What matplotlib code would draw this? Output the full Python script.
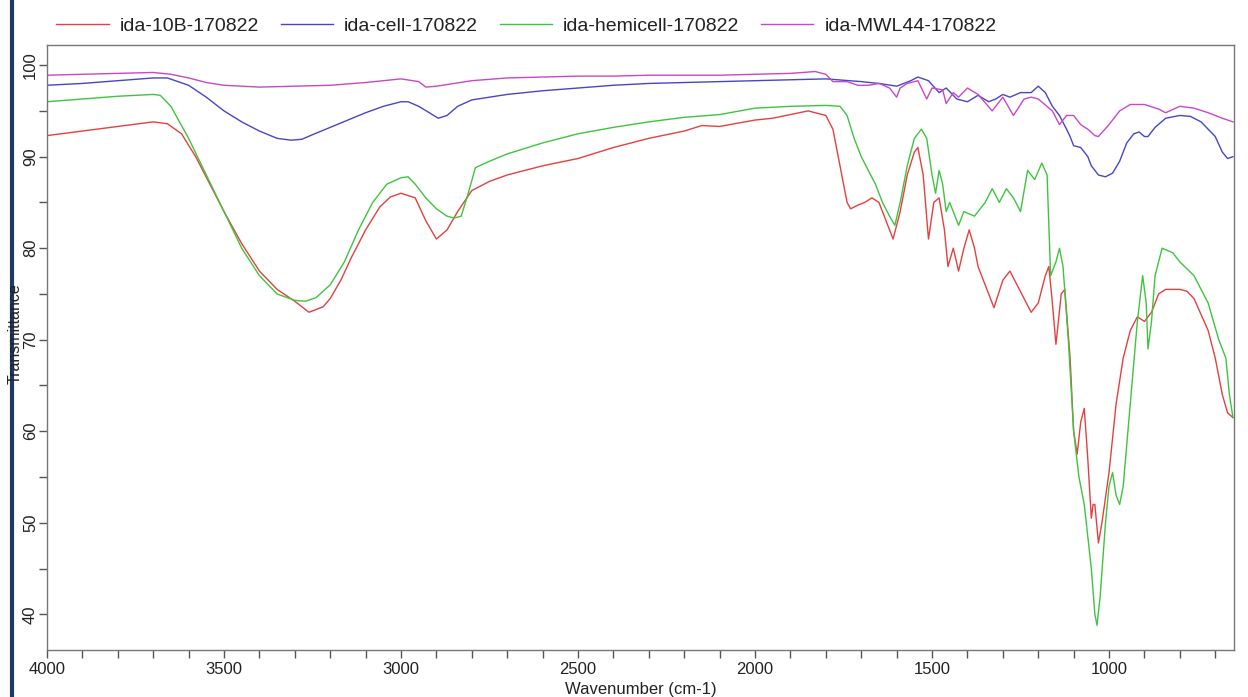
import numpy as np
import matplotlib.pyplot as plt
from matplotlib.ticker import MultipleLocator
from matplotlib.lines import Line2D

plt.rcParams['font.family'] = ['Liberation Sans', 'DejaVu Sans']

# wavenumber / transmittance points
wn_red = [4000, 3900, 3800, 3700, 3660, 3620, 3580, 3540, 3500, 3450, 3400, 3350, 3300, 3260,
          3240, 3220, 3200, 3170, 3140, 3100, 3060, 3030, 3000, 2960, 2930, 2900, 2870, 2840,
          2800, 2750, 2700, 2600, 2500, 2400, 2350, 2300, 2200, 2150, 2100, 2000, 1950, 1900,
          1850, 1800, 1780, 1760, 1740, 1730, 1710, 1690, 1670, 1650, 1630, 1610, 1590, 1570,
          1550, 1540, 1525, 1510, 1495, 1480, 1465, 1455, 1440, 1425, 1410, 1395, 1380, 1370,
          1350, 1325, 1300, 1280, 1260, 1240, 1220, 1200, 1180, 1170, 1160, 1150, 1135, 1125,
          1110, 1100, 1090, 1080, 1070, 1060, 1050, 1045, 1040, 1030, 1020, 1000, 980, 960,
          940, 920, 900, 880, 860, 840, 800, 780, 760, 720, 700, 680, 665, 650]
t_red = [92.3, 92.8, 93.3, 93.8, 93.6, 92.5, 90, 87, 84, 80.5, 77.5, 75.5, 74.2, 73,
         73.3, 73.6, 74.5, 76.5, 79, 82, 84.5, 85.6, 86, 85.5, 83, 81, 82, 84,
         86.3, 87.3, 88, 89, 89.8, 91, 91.5, 92, 92.8, 93.4, 93.3, 94, 94.2, 94.6,
         95, 94.5, 93, 89, 85, 84.3, 84.7, 85, 85.5, 85, 83, 81, 84, 88,
         90.5, 91, 88, 81, 85, 85.5, 82, 78, 80, 77.5, 80, 82, 80, 78,
         76, 73.5, 76.5, 77.5, 76, 74.5, 73, 74, 77, 78, 74, 69.5, 75, 75.5,
         68, 60, 57.5, 61, 62.5, 57, 50.5, 52, 52, 47.8, 50, 55.5, 63, 68,
         71, 72.5, 72, 73, 75, 75.5, 75.5, 75.3, 74.5, 71, 68, 64, 62, 61.5]

wn_blue = [4000, 3900, 3800, 3700, 3660, 3600, 3550, 3500, 3450, 3400, 3350, 3310, 3280, 3250,
           3200, 3150, 3100, 3050, 3000, 2980, 2950, 2920, 2895, 2870, 2840, 2800, 2700, 2600,
           2500, 2400, 2300, 2200, 2100, 2000, 1900, 1800, 1700, 1650, 1600, 1560, 1540, 1510,
           1480, 1460, 1430, 1400, 1370, 1340, 1320, 1300, 1280, 1250, 1220, 1200, 1180, 1160,
           1140, 1120, 1110, 1100, 1080, 1060, 1050, 1030, 1010, 990, 970, 950, 930, 915, 900,
           890, 870, 840, 800, 770, 740, 720, 700, 680, 665, 650]
t_blue = [97.8, 98, 98.3, 98.6, 98.6, 97.8, 96.5, 95, 93.8, 92.8, 92, 91.8, 91.9, 92.4,
          93.2, 94, 94.8, 95.5, 96, 96, 95.5, 94.8, 94.2, 94.5, 95.5, 96.2, 96.8, 97.2,
          97.5, 97.8, 98, 98.1, 98.2, 98.3, 98.4, 98.5, 98.2, 98, 97.7, 98.3, 98.7, 98.3,
          97, 97.5, 96.3, 96, 96.7, 96, 96.3, 96.8, 96.5, 97, 97, 97.7, 97, 95.5,
          94.5, 93, 92.2, 91.2, 91, 90, 89, 88, 87.8, 88.2, 89.5, 91.5, 92.5, 92.7, 92.2,
          92.2, 93.2, 94.2, 94.5, 94.4, 93.8, 93, 92.2, 90.5, 89.8, 90]

wn_green = [4000, 3900, 3800, 3700, 3680, 3650, 3600, 3550, 3500, 3450, 3400, 3350, 3300, 3270,
            3240, 3200, 3160, 3120, 3080, 3040, 3000, 2980, 2960, 2930, 2900, 2870, 2850, 2830,
            2810, 2790, 2750, 2700, 2600, 2500, 2400, 2300, 2200, 2100, 2000, 1900, 1800, 1760,
            1740, 1720, 1700, 1680, 1660, 1640, 1620, 1605, 1590, 1570, 1550, 1530, 1515, 1500,
            1490, 1480, 1470, 1460, 1450, 1440, 1425, 1410, 1380, 1350, 1330, 1310, 1290, 1270,
            1250, 1230, 1210, 1190, 1175, 1165, 1150, 1140, 1130, 1115, 1100, 1085, 1070, 1050,
            1040, 1034, 1025, 1010, 1000, 990, 980, 970, 960, 940, 920, 905, 895, 890, 880,
            870, 850, 820, 800, 760, 720, 690, 670, 660, 650]
t_green = [96, 96.3, 96.6, 96.8, 96.7, 95.5, 92, 88, 84, 80, 77, 75, 74.3, 74.2,
           74.6, 76, 78.5, 82, 85, 87, 87.7, 87.8, 87, 85.5, 84.3, 83.5, 83.3, 83.5,
           86, 88.8, 89.5, 90.3, 91.5, 92.5, 93.2, 93.8, 94.3, 94.6, 95.3, 95.5, 95.6, 95.5,
           94.5, 92, 90, 88.5, 87, 85, 83.5, 82.5, 85, 89, 92, 93, 92, 88,
           86, 88.5, 87, 84, 85, 84, 82.5, 84, 83.5, 85, 86.5, 85, 86.5, 85.5,
           84, 88.5, 87.5, 89.3, 88, 77, 78.5, 80, 78, 70, 60, 55, 52, 45,
           40, 38.8, 42, 50, 54, 55.5, 53, 52, 54, 63, 72, 77, 74, 69, 72,
           77, 80, 79.5, 78.5, 77, 74, 70, 68, 64, 61.5]

wn_pink = [4000, 3900, 3800, 3700, 3650, 3600, 3550, 3500, 3400, 3300, 3200, 3100, 3000, 2950,
           2930, 2900, 2850, 2800, 2700, 2600, 2500, 2400, 2300, 2200, 2100, 2000, 1900, 1830,
           1800, 1780, 1740, 1710, 1680, 1650, 1620, 1600, 1590, 1570, 1540, 1515, 1500, 1470,
           1460, 1440, 1425, 1400, 1370, 1330, 1300, 1270, 1240, 1220, 1200, 1160, 1140, 1120,
           1100, 1080, 1060, 1040, 1030, 1000, 970, 940, 900, 860, 840, 800, 760, 720, 680, 650]
t_pink = [98.9, 99, 99.1, 99.2, 99, 98.6, 98.1, 97.8, 97.6, 97.7, 97.8, 98.1, 98.5, 98.2,
          97.6, 97.7, 98, 98.3, 98.6, 98.7, 98.8, 98.8, 98.9, 98.9, 98.9, 99, 99.1, 99.3,
          99, 98.2, 98.2, 97.8, 97.8, 98, 97.5, 96.5, 97.5, 98, 98.3, 96.3, 97.5, 97.3,
          95.8, 97, 96.5, 97.5, 96.8, 95, 96.5, 94.5, 96.3, 96.5, 96.3, 95, 93.5, 94.5,
          94.5, 93.5, 93, 92.3, 92.2, 93.5, 95, 95.7, 95.7, 95.2, 94.8, 95.5, 95.3, 94.8, 94.2, 93.8]

labels = ["ida-10B-170822", "ida-cell-170822", "ida-hemicell-170822", "ida-MWL44-170822"]
colors = ["#e4403f", "#4646c8", "#3fc43f", "#c848c8"]

fig = plt.figure(figsize=(12.48, 6.97), dpi=100)
ax = fig.add_axes([47 / 1248, 47 / 697, 1187 / 1248, 605 / 697])

series = [(wn_red, t_red), (wn_blue, t_blue), (wn_green, t_green), (wn_pink, t_pink)]
for (wn, t), c, lab in zip(series, colors, labels):
    ax.plot(wn, t, color=c, lw=1.0, label=lab)

ax.set_xlim(4000, 647)
ax.set_ylim(36.1, 102.2)
ax.xaxis.set_major_locator(MultipleLocator(500))
ax.xaxis.set_minor_locator(MultipleLocator(100))
ax.yaxis.set_major_locator(MultipleLocator(10))
ax.yaxis.set_minor_locator(MultipleLocator(5))

for s in ax.spines.values():
    s.set_color("#777777")
    s.set_linewidth(1.0)
ax.tick_params(which="both", direction="out", length=5.5, width=1, color="#555555",
               labelsize=12, labelcolor="#222222")
ax.tick_params(axis="y", which="both", pad=1)
for lbl in ax.get_yticklabels():
    lbl.set_rotation(90)
    lbl.set_va("center")

ax.set_xlabel("Wavenumber (cm-1)", fontsize=12, color="#222222", labelpad=3)
fig.text(15 / 1248, 0.522, "Transmittance", rotation=90, ha="center", va="center",
         fontsize=11.5, color="#222222")

handles = [Line2D([], [], color=c, lw=1.0) for c in colors]
fig.legend(handles, labels, loc="upper left", bbox_to_anchor=(0.031, 1.0), ncol=4,
           frameon=False, fontsize=14, handlelength=2.7, handletextpad=0.57,
           columnspacing=1.1, labelcolor="#222222")

# dark bar along the left edge of the screenshot
fig.add_artist(Line2D([12 / 1248, 12 / 1248], [0, 1], color="#1f3864", lw=3,
                      transform=fig.transFigure))

fig.savefig("out.png", dpi=100)
